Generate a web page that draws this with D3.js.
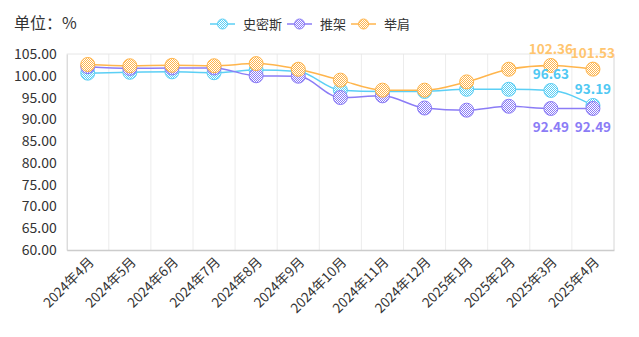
<!DOCTYPE html>
<html><head><meta charset="utf-8">
<script src="https://cdn.jsdelivr.net/npm/d3@7/dist/d3.min.js"></script>
<style>body{margin:0;background:#fff;font-family:"Microsoft YaHei","Noto Sans CJK SC",sans-serif;}</style>
</head><body><svg id="c" width="639" height="337"></svg>
<script>
const categories = ["2024年4月","2024年5月","2024年6月","2024年7月","2024年8月","2024年9月","2024年10月","2024年11月","2024年12月","2025年1月","2025年2月","2025年3月","2025年4月"];
const seriesNames = ["史密斯","推架","举肩"];
const smith = [100.6,100.8,100.9,100.7,101.3,101.0,96.7,96.4,96.4,96.9,96.9,96.63,93.19];
const tuijia = [102.1,101.7,101.8,101.8,100.0,99.9,95.0,95.4,92.6,92.1,93.0,92.49,92.49];
const jujian = [102.6,102.3,102.4,102.3,102.8,101.5,99.0,96.7,96.7,98.6,101.5,102.36,101.53];
const yTicks = [60,65,70,75,80,85,90,95,100,105];
const colors = ["#5bcff5","#8b7cf6","#ffb54c"];
const labelColors = ["#4fc8f3","#8b7cf6","#ffc56f"];
const labelPos = ["top","bottom","top"];
const labeledIdx = [11,12];

const svg = d3.select("#c");
const m = {l:66.7, r:614, t:54, b:250};
const x = d3.scaleBand().domain(categories).range([m.l,m.r]);
const y = d3.scaleLinear().domain([60,105]).range([m.b,m.t]);

const defs = svg.append("defs");
colors.forEach((c,i)=>{
  const p = defs.append("pattern").attr("id","pat"+i).attr("width",2).attr("height",2).attr("patternUnits","userSpaceOnUse");
  p.append("rect").attr("width",2).attr("height",2).attr("fill","#fff");
  p.append("rect").attr("width",1).attr("height",1).attr("fill",c);
  p.append("rect").attr("x",1).attr("y",1).attr("width",1).attr("height",1).attr("fill",c);
});

svg.append("g").selectAll("line").data(categories.slice(1)).join("line")
  .attr("x1",d=>x(d)).attr("x2",d=>x(d)).attr("y1",m.t).attr("y2",m.b)
  .attr("stroke","#ececec").attr("stroke-width",1);
svg.append("line").attr("x1",m.r).attr("x2",m.r).attr("y1",m.t).attr("y2",m.b).attr("stroke","#d6d6d6");
svg.append("line").attr("x1",m.l).attr("x2",m.r).attr("y1",m.t).attr("y2",m.t).attr("stroke","#e6e6e6");

const ya = svg.append("g").attr("transform",`translate(${m.l},0)`)
  .call(d3.axisLeft(y).tickValues(yTicks).tickFormat(d3.format(".2f")).tickSize(0).tickPadding(10));
ya.select(".domain").attr("stroke","#cccccc");
ya.selectAll("text").attr("font-size",14).attr("fill","#333").attr("font-family","Microsoft YaHei, Noto Sans CJK SC, sans-serif");

const xa = svg.append("g").attr("transform",`translate(0,${m.b})`)
  .call(d3.axisBottom(x).tickSize(0).tickPadding(0));
xa.select(".domain").attr("stroke","#cccccc").attr("stroke-width",1.5);
xa.selectAll("text").attr("font-size",13.5).attr("fill","#333").attr("text-anchor","end")
  .attr("font-family","Microsoft YaHei, Noto Sans CJK SC, sans-serif")
  .attr("dy",0).attr("transform","translate(7,13) rotate(-45)");

const data = [smith,tuijia,jujian];
const cx = i => x(categories[i]) + x.bandwidth()/2;
const line = d3.line().x((d,i)=>cx(i)).y(d=>y(d)).curve(d3.curveMonotoneX);

data.forEach((s,k)=>{
  svg.append("path").datum(s).attr("d",line).attr("fill","none").attr("stroke",colors[k]).attr("stroke-width",1.5);
});
data.forEach((s,k)=>{
  svg.append("g").selectAll("circle").data(s).join("circle")
    .attr("cx",(d,i)=>cx(i)).attr("cy",d=>y(d)).attr("r",7)
    .attr("fill",`url(#pat${k})`).attr("stroke",colors[k]).attr("stroke-width",1);
});
data.forEach((s,k)=>{
  labeledIdx.forEach(i=>{
    svg.append("text").attr("x",cx(i)).attr("y", labelPos[k]==="top" ? y(s[i])-11 : y(s[i])+24)
      .attr("text-anchor","middle").attr("font-size",13.5).attr("font-weight","bold")
      .attr("fill",labelColors[k]).attr("font-family","Microsoft YaHei, Noto Sans CJK SC, sans-serif")
      .text(s[i].toFixed(2));
  });
});

svg.append("text").attr("x",14).attr("y",29).attr("font-size",16).attr("fill","#333").text("单位：%");

const lg = svg.append("g");
let lx = 210;
seriesNames.forEach((n,k)=>{
  const g = lg.append("g").attr("transform",`translate(${lx},24)`);
  g.append("line").attr("x1",0).attr("x2",25).attr("y1",0).attr("y2",0).attr("stroke",colors[k]).attr("stroke-width",1.5);
  g.append("circle").attr("cx",12.5).attr("cy",0).attr("r",5).attr("fill",`url(#pat${k})`).attr("stroke",colors[k]);
  const t = g.append("text").attr("x",33).attr("y",5).attr("font-size",13).attr("fill","#333").text(n);
  lx += 33 + t.node().getComputedTextLength() + 5;
});
</script></body></html>
